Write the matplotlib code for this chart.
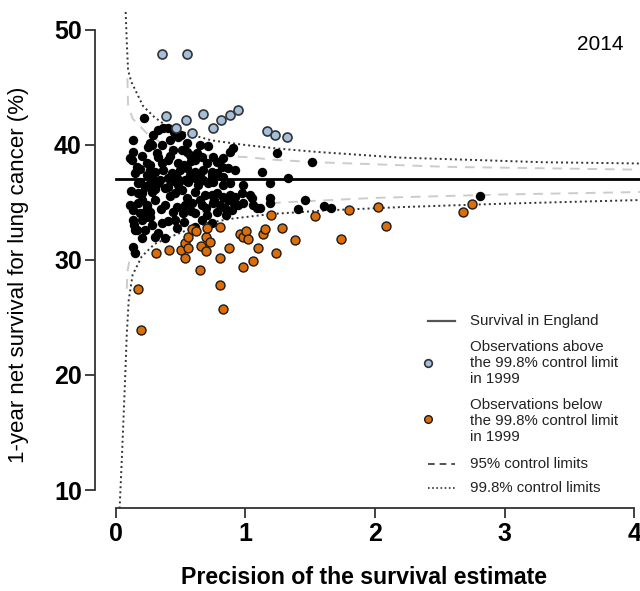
import numpy as np
import matplotlib.pyplot as plt
from matplotlib.lines import Line2D

plt.rcParams['font.family'] = ['Liberation Sans', 'DejaVu Sans']

england = 37.0
year_label = "2014"

# observations within the control limits
black_x = [0.216, 0.324, 0.363, 0.402, 0.479, 0.278, 0.247, 0.417, 0.131, 0.317,
           0.324, 0.108, 0.239, 0.263, 0.440, 0.510, 0.548, 0.571, 0.625, 0.610,
           0.664, 0.703, 0.749, 0.402, 0.355, 0.162, 0.301, 0.363, 0.432, 0.494,
           0.548, 0.610, 0.672, 0.741, 0.278, 0.340, 0.402, 0.471, 0.533, 0.610,
           0.672, 0.741,
           0.131, 0.263, 0.124, 0.162, 0.147, 0.185, 0.224, 0.170, 0.201, 0.131,
           0.185, 0.239, 0.201, 0.162, 0.131, 0.263, 0.286, 0.263,
           0.170, 0.247, 0.324, 0.402, 0.479, 0.556, 0.633, 0.710, 0.201, 0.278,
           0.378, 0.456, 0.510, 0.610, 0.687, 0.170, 0.239, 0.378, 0.533, 0.587,
           0.664, 0.208, 0.263, 0.440, 0.517, 0.610, 0.703, 0.131, 0.355, 0.456,
           0.664, 0.741, 0.147, 0.224, 0.324, 0.471, 0.610, 0.201, 0.301, 0.378,
           0.147,
           0.749, 0.826, 0.880, 0.981, 1.189, 0.741, 0.780, 0.826, 0.880, 0.919,
           0.973, 1.035, 1.050, 0.749, 0.803, 0.865, 0.903, 0.942, 0.981, 0.780,
           0.842, 0.896, 1.058, 1.089, 1.112, 1.189, 1.189, 1.459, 1.405,
           0.880, 0.903, 1.243, 1.514, 1.127, 1.328, 0.819, 0.865, 0.919, 0.780,
           0.741, 0.826, 1.606, 1.660, 2.810,
           0.29, 0.45, 0.50, 0.36, 0.55, 0.65, 0.71, 0.20, 0.42, 0.48,
           0.53, 0.58, 0.78, 0.83, 0.19, 0.24, 0.57, 0.65, 0.45, 0.30,
           0.42, 0.55, 0.65, 0.30, 0.35, 0.47, 0.58, 0.40, 0.53, 0.28,
           0.23, 0.70, 0.76, 0.85, 0.12, 0.11, 0.14]
black_y = [42.35, 41.30, 41.48, 41.48, 40.70, 40.00, 39.83, 40.43, 39.39, 39.30,
           38.96, 38.87, 38.43, 38.26, 39.57, 39.57, 39.39, 39.13, 39.30, 38.70,
           38.96, 38.43, 38.96, 38.70, 38.43, 37.83, 37.65, 37.83, 37.57, 37.83,
           38.00, 37.65, 37.83, 37.65, 37.13, 36.96, 37.13, 37.13, 36.96, 37.13,
           36.96, 37.13,
           40.43, 40.17, 38.70, 38.09, 37.57, 36.78, 36.35, 35.83, 35.22, 34.35,
           34.09, 34.61, 33.48, 32.61, 31.13, 33.74, 36.35, 37.83,
           36.70, 36.52, 36.70, 36.35, 36.52, 36.78, 36.52, 36.70, 35.83, 35.91,
           36.26, 35.83, 36.09, 35.91, 35.65, 34.96, 34.78, 34.78, 34.78, 34.96,
           34.78, 34.09, 34.17, 34.17, 34.09, 34.09, 33.91, 33.48, 33.22, 33.48,
           33.48, 33.22, 32.61, 32.61, 32.35, 32.78, 32.87, 31.91, 32.00, 31.91,
           30.61,
           36.78, 36.52, 36.70, 36.52, 36.70, 35.65, 35.83, 35.48, 35.65, 35.48,
           35.83, 35.65, 35.39, 34.96, 34.78, 35.22, 35.04, 34.78, 34.96, 34.17,
           34.52, 34.35, 34.78, 34.52, 34.52, 35.39, 34.96, 35.22, 34.43,
           39.39, 39.74, 39.30, 38.52, 37.65, 37.13, 38.09, 38.00, 37.83, 37.57,
           37.39, 37.22, 34.70, 34.52, 35.60,
           40.9, 41.1, 40.9, 40.0, 40.2, 40.0, 39.9, 39.0, 39.0, 38.4,
           38.3, 38.6, 38.5, 38.9, 37.9, 37.4, 37.4, 37.3, 36.9, 36.2,
           35.6, 35.4, 35.2, 35.2, 34.4, 34.6, 34.3, 33.4, 33.3, 33.0,
           33.7, 34.5, 35.2, 33.9, 36.0, 34.8, 33.0]

# observations above the 99.8% limit in 1999
above_x = [0.36, 0.55, 0.386, 0.54, 0.675, 0.463, 0.585, 0.75, 0.81, 0.88, 0.94, 1.17, 1.23, 1.32]
above_y = [47.9, 47.9, 42.5, 42.2, 42.7, 41.5, 41.0, 41.5, 42.2, 42.6, 43.0, 41.2, 40.9, 40.7]

# observations below the 99.8% limit in 1999
below_x = [0.172, 0.193, 0.309, 0.407, 0.507, 0.533, 0.559, 0.533, 0.559, 0.585,
           0.618, 0.649, 0.661, 0.695, 0.695, 0.726, 0.705, 0.803, 0.803, 0.803,
           0.826, 0.87, 0.958, 0.978, 1.004, 1.017, 0.983, 1.06, 1.094, 1.133,
           1.15, 1.2, 1.236, 1.28, 1.38, 1.54, 1.74, 1.796, 2.02, 2.086, 2.68, 2.746]
below_y = [27.45, 23.9, 30.6, 30.9, 30.9, 31.45, 31.0, 30.2, 32.0, 32.7,
           32.55, 29.1, 31.2, 32.0, 30.8, 31.6, 32.8, 32.9, 30.2, 27.8,
           25.7, 31.0, 32.3, 32.0, 32.55, 31.8, 29.4, 29.9, 31.0, 32.3,
           32.7, 33.9, 30.6, 32.8, 31.7, 33.8, 31.85, 34.35, 34.6, 32.95, 34.2, 34.85]

# control limits
up998_x = [0.075, 0.085, 0.095, 0.12, 0.15, 0.21, 0.3, 0.4, 0.55, 0.74, 1.0, 1.24, 1.55, 2.2, 2.9, 3.3, 4.0, 4.16]
up998_y = [52.0, 49.0, 46.5, 45.5, 44.8, 43.4, 42.4, 41.6, 41.0, 40.4, 40.0, 39.7, 39.4, 38.9, 38.65, 38.5, 38.4, 38.35]
lo998_x = [0.03, 0.05, 0.07, 0.085, 0.1, 0.13, 0.2, 0.3, 0.42, 0.55, 0.7, 0.9, 1.2, 1.6, 2.2, 3.0, 4.0, 4.16]
lo998_y = [8.4, 13.5, 19.0, 23.5, 26.5, 28.7, 30.3, 31.4, 32.0, 32.6, 33.2, 33.6, 34.0, 34.3, 34.6, 34.9, 35.2, 35.25]
up95_x = [0.09, 0.095, 0.13, 0.25, 0.38, 0.51, 0.7, 1.0, 1.24, 1.55, 2.56, 4.0, 4.16]
up95_y = [45.8, 43.5, 42.3, 40.9, 40.0, 39.4, 39.1, 38.95, 38.7, 38.5, 38.1, 37.86, 37.85]
lo95_x = [0.085, 0.09, 0.12, 0.16, 0.3, 0.46, 0.63, 0.9, 1.27, 2.0, 3.0, 4.0, 4.16]
lo95_y = [27.5, 29.0, 30.8, 31.8, 33.0, 33.6, 34.1, 34.5, 35.0, 35.4, 35.7, 35.9, 35.95]

W, H = 640, 591
fig = plt.figure(figsize=(W / 100, H / 100), dpi=100)
ax = fig.add_axes([95 / W, 1 - 508.4 / H, 560 / W, 496.8 / H])
ax.set_xlim(-0.16, 4.16)
ax.set_ylim(8.4, 51.6)

ax.plot(up998_x, up998_y, ls=(0, (1, 1.6)), color='#333333', lw=1.4)
ax.plot(lo998_x, lo998_y, ls=(0, (1, 1.6)), color='#333333', lw=1.4)
ax.plot(up95_x, up95_y, ls=(0, (5, 4)), color='#cccccc', lw=1.4)
ax.plot(lo95_x, lo95_y, ls=(0, (5, 4)), color='#cccccc', lw=1.4)
ax.plot([0, 4.16], [england, england], color='black', lw=2.0, zorder=3)

ax.scatter(black_x, black_y, s=46, c='black', zorder=4, linewidths=0)
ax.scatter(above_x, above_y, s=42, c='#a3bfdc', edgecolors='#333333', linewidths=1.2, zorder=5)
ax.scatter(below_x, below_y, s=42, c='#dc6e0a', edgecolors='#1a1a1a', linewidths=1.0, zorder=5)

for s in ['top', 'right']:
    ax.spines[s].set_visible(False)
ax.spines['left'].set_bounds(10, 50)
ax.spines['bottom'].set_bounds(0, 4)
for s in ['left', 'bottom']:
    ax.spines[s].set_color('#333333')
    ax.spines[s].set_linewidth(1.3)
ax.set_xticks([0, 1, 2, 3, 4])
ax.set_yticks([10, 20, 30, 40, 50])
ax.tick_params(length=7, width=1.3, color='#333333', labelsize=18, pad=2.5)
for lab in ax.get_xticklabels() + ax.get_yticklabels():
    lab.set_fontweight('bold')

# axis titles placed where they sit in the original
fig.text(364 / W, 1 - 578 / H, "Precision of the survival estimate",
         fontsize=16.7, fontweight='bold', ha='center', va='center')
fig.text(19 / W, 1 - 275 / H, "1-year net survival for lung cancer (%)",
         fontsize=16, rotation=90, ha='center', va='center')

fig.text(600 / W, 1 - 45 / H, year_label, fontsize=15, ha='center', va='center')

# legend, placed in figure pixels
def fx(px):
    return px / W

def fy(py):
    return 1 - py / H

leg_fs = 10.8
txt_col = '#222222'
fig.add_artist(Line2D([fx(428), fx(455)], [fy(321), fy(321)], color='#555555', lw=1.6))
fig.text(fx(470), fy(321), "Survival in England", fontsize=leg_fs, va='center', color=txt_col)
fig.add_artist(Line2D([fx(428)], [fy(363)], marker='o', ms=5.5, mfc='#a3bfdc', mec='#333333', mew=1.2, ls=''))
fig.text(fx(470), fy(363), "Observations above\nthe 99.8% control limit\nin 1999",
         fontsize=leg_fs, va='center', color=txt_col, linespacing=1.15)
fig.add_artist(Line2D([fx(428)], [fy(419)], marker='o', ms=5.5, mfc='#dc6e0a', mec='#1a1a1a', mew=1.0, ls=''))
fig.text(fx(470), fy(421), "Observations below\nthe 99.8% control limit\nin 1999",
         fontsize=leg_fs, va='center', color=txt_col, linespacing=1.15)
fig.add_artist(Line2D([fx(428), fx(455)], [fy(464), fy(464)], color='#333333', lw=1.2, ls=(0, (4, 3))))
fig.text(fx(470), fy(464), "95% control limits", fontsize=leg_fs, va='center', color=txt_col)
fig.add_artist(Line2D([fx(428), fx(455)], [fy(488), fy(488)], color='#333333', lw=1.2, ls=(0, (1, 1.5))))
fig.text(fx(470), fy(488), "99.8% control limits", fontsize=leg_fs, va='center', color=txt_col)

fig.savefig("out.png", dpi=100)
